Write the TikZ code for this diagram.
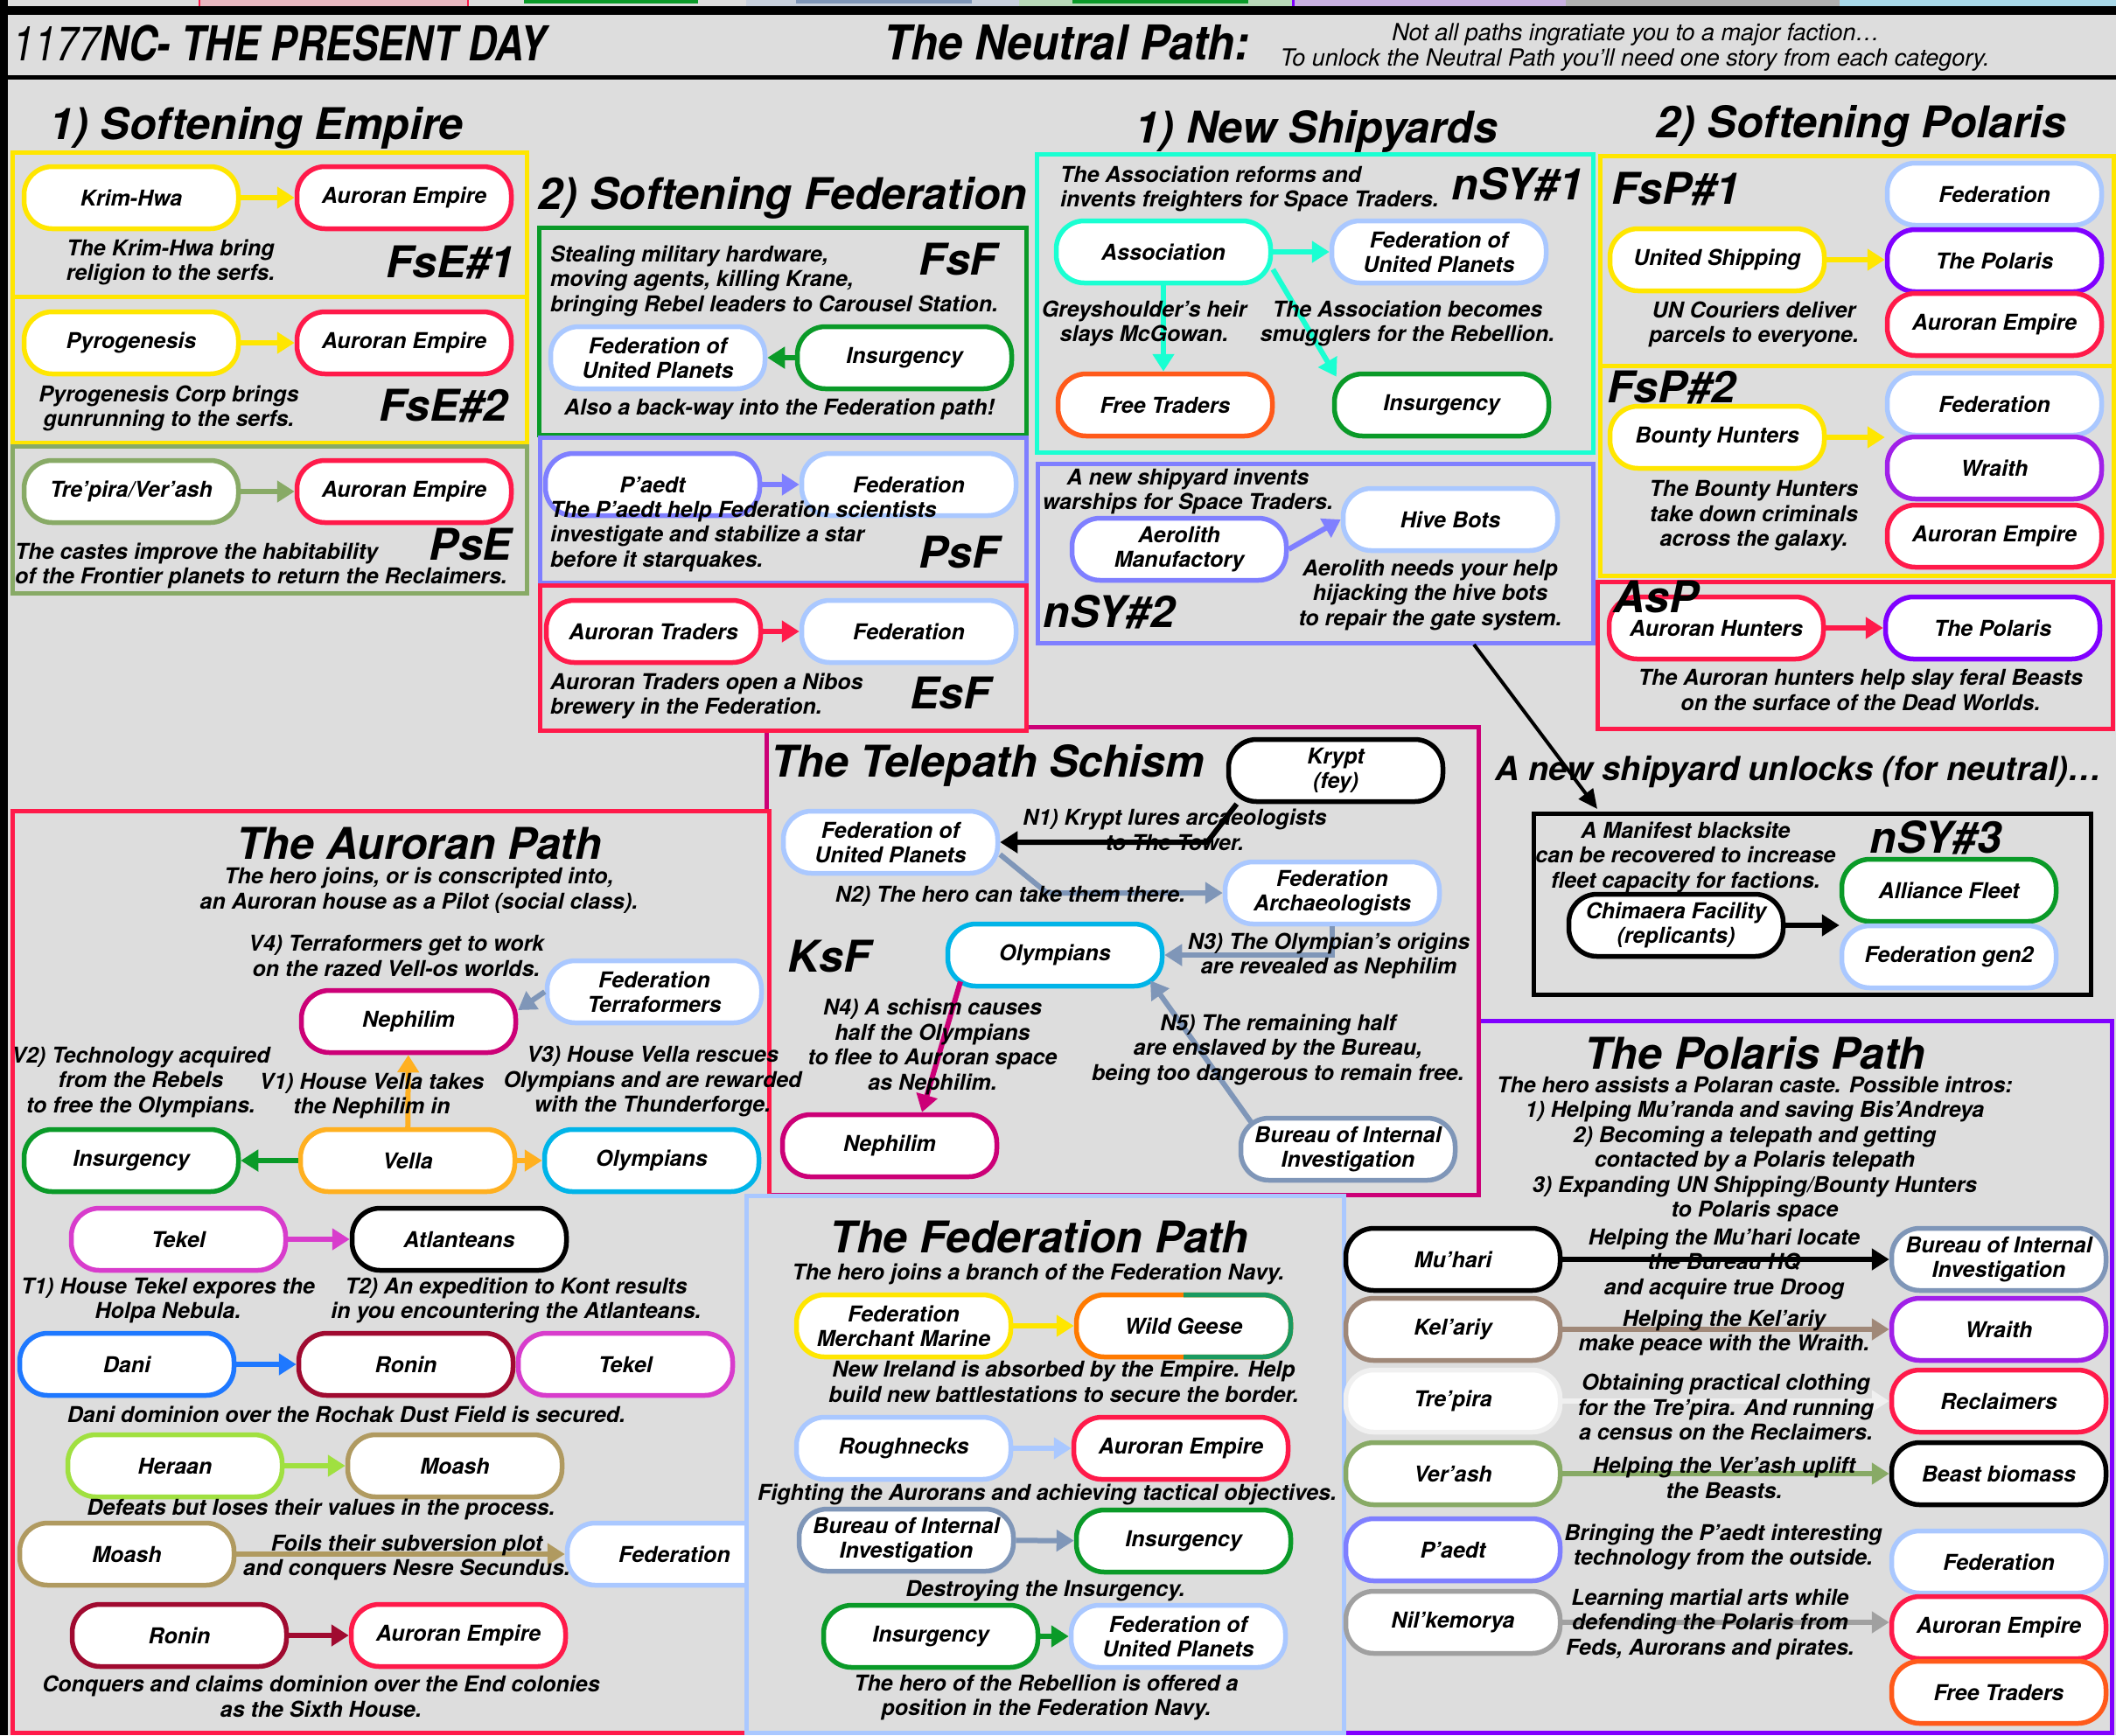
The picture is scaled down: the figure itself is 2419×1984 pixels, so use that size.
\documentclass[tikz,border=0pt]{standalone}
\usepackage{fontspec}
\setmainfont{TeX Gyre Heros}
\usepackage{xcolor}
\definecolor{npbg}{HTML}{DDDDDD}
\definecolor{npfed}{HTML}{AAC8FF}
\definecolor{npred}{HTML}{FF1A4A}
\definecolor{npyel}{HTML}{FFE600}
\definecolor{npgreen}{HTML}{0A9A28}
\definecolor{nppaedt}{HTML}{7F7FFF}
\definecolor{npassoc}{HTML}{1AFFD2}
\definecolor{npfree}{HTML}{FF5A1A}
\definecolor{nppol}{HTML}{8000FF}
\definecolor{npwraith}{HTML}{A020E8}
\definecolor{nptel}{HTML}{CC0077}
\definecolor{npcaste}{HTML}{88AA66}
\definecolor{npbureau}{HTML}{7F96B8}
\definecolor{npolymp}{HTML}{00B4E8}
\definecolor{npvella}{HTML}{FFB020}
\definecolor{nptekel}{HTML}{D83CCC}
\definecolor{npdani}{HTML}{1E78FF}
\definecolor{npronin}{HTML}{A00A30}
\definecolor{npheraan}{HTML}{A0E040}
\definecolor{npmoash}{HTML}{B09A60}
\definecolor{npkel}{HTML}{A08878}
\definecolor{nptre}{HTML}{F0F0F0}
\definecolor{npnil}{HTML}{A0A0A0}
\definecolor{npgeeseA}{HTML}{FF7A00}
\definecolor{npgeeseB}{HTML}{1A9A60}
\definecolor{npstpink}{HTML}{E8B8C0}
\definecolor{npstgrey}{HTML}{C8D0DC}
\definecolor{npstgreen}{HTML}{B8D8B8}
\definecolor{npstlav}{HTML}{C8B0E0}
\definecolor{npstdark}{HTML}{B0B0B0}
\definecolor{npstsky}{HTML}{A8D8E8}
\usepackage{tikz}
\usetikzlibrary{arrows.meta}
\newcommand\nppill{\fontsize{25}{28}\selectfont\bfseries\itshape}
\newcommand\npdesc{\fontsize{25}{28.5}\selectfont\bfseries\itshape}
\newcommand\nphead{\fontsize{50}{54}\selectfont\bfseries\itshape}
\newcommand\nphdr{\fontsize{55}{60}\selectfont\bfseries\itshape}
\newcommand\npnote{\fontsize{27}{30}\selectfont\itshape}
\newcommand\npmid{\fontsize{38}{42}\selectfont\bfseries\itshape}

\begin{document}
\begin{tikzpicture}[x=1pt,y=-1pt,
  pill/.style={draw=#1,line width=5.5pt,fill=white,rounded corners=32pt,minimum width=245pt,minimum height=71pt,inner sep=0pt,align=center,font=\nppill},
  frm/.style={draw=#1,line width=5pt,fill=npbg},
  lnk/.style={draw=#1,line width=6pt,-{Triangle[length=20pt,width=24pt]}},
  txt/.style={inner sep=0pt,align=center,font=\npdesc},
  ltxt/.style={inner sep=0pt,align=left,anchor=west,font=\npdesc},
  head/.style={inner sep=0pt,anchor=base,font=\nphead},
  code/.style={inner sep=0pt,font=\nphead}]
\useasboundingbox (0,0) rectangle (2419,1984);
\fill[npbg] (0,0) rectangle (2419,1984);
\fill[npstpink] (228,0) rectangle (535,8);
\draw[npred,line width=2pt] (228,0) -- (228,8) (535,0) -- (535,8);
\fill[npgreen] (599,0) rectangle (798,4);
\fill[npstgrey] (853,0) rectangle (1165,8);
\fill[npbureau] (910,0) rectangle (1111,4);
\fill[npstgreen] (1165,0) rectangle (1478,8);
\fill[npgreen] (1226,0) rectangle (1427,4);
\fill[npstlav] (1478,0) rectangle (1790,8);
\draw[nppol,line width=3pt] (1478,0) -- (1478,8);
\fill[npstdark] (1790,0) rectangle (2103,8);
\fill[npstsky] (2103,0) rectangle (2419,8);
\fill[black] (0,7) rectangle (2419,17);
\fill[black] (0,86) rectangle (2419,91);
\fill[black] (0,0) rectangle (9,1984);

\node[inner sep=0pt,anchor=west,font=\nphdr] (hdrA) at (14,49) {\scalebox{0.82}[1]{{\mdseries 1177}NC- THE PRESENT DAY}};
\node[inner sep=0pt,anchor=west,font=\nphdr] (hdrB) at (1010,49) {\scalebox{0.92}[1]{The Neutral Path:}};
\node[inner sep=0pt,anchor=base,font=\npnote] (hdrC) at (1870,46) {Not all paths ingratiate you to a major faction\ldots};
\node[inner sep=0pt,anchor=base,font=\npnote] (hdrD) at (1869,75) {To unlock the Neutral Path you’ll need one story from each category.};

\draw[frm=nppol] (1534,1167) rectangle (2414,1981);

\draw[frm=nptel] (876,831) rectangle (1690,1366);
\node[head] (hTS) at (1129,888) {The Telepath Schism};
\node[pill=black] (krypt) at (1527,881) {Krypt\\(fey)};
\node[pill=npfed] (fupC) at (1018,963) {Federation of\\United Planets};
\node[pill=npfed] (farch) at (1523,1021) {Federation\\Archaeologists};
\node[pill=npolymp] (olyA) at (1206,1092) {Olympians};
\node[pill=nptel] (nephA) at (1017,1310) {Nephilim};
\node[pill=npbureau] (biiA) at (1541,1314) {Bureau of Internal\\Investigation};
\node[code] (cKsF) at (948,1093) {KsF};
\coordinate (n1bend) at (1380,963);
\coordinate (n2bend) at (1197,1021);
\draw[lnk=black] ([xshift=12pt]krypt.south west) -- (n1bend) -- (fupC.east);
\draw[lnk=npbureau] ([yshift=-14pt]fupC.east) -- (n2bend) -- (farch.west);
\draw[lnk=npbureau] (farch.south) |- (olyA.east);
\draw[lnk=nptel] ([xshift=-108pt,yshift=8pt]olyA.south) -- ([xshift=37pt]nephA.north);
\draw[lnk=npbureau] ([xshift=-111pt,yshift=-7pt]biiA.north) -- ([xshift=109pt,yshift=9pt]olyA.south);
\node[txt] (tN1) at (1343,949) {N1) Krypt lures arcaeologists\\to The Tower.};
\node[txt] (tN2) at (1155,1025) {N2) The hero can take them there.};
\node[txt] (tN3) at (1519,1093) {N3) The Olympian’s origins\\are revealed as Nephilim};
\node[txt] (tN4) at (1066,1197) {N4) A schism causes\\half the Olympians\\to flee to Auroran space\\as Nephilim.};
\node[txt] (tN5) at (1461,1200) {N5) The remaining half\\are enslaved by the Bureau,\\being too dangerous to remain free.};

\draw[frm=npred] (14,927) rectangle (879,1981);
\node[head] (hAP) at (479,982) {The Auroran Path};
\node[txt] (tAP) at (479,1018) {The hero joins, or is conscripted into,\\an Auroran house as a Pilot (social class).};
\node[pill=npfed] (fterra) at (748,1134) {Federation\\Terraformers};
\node[pill=nptel] (nephB) at (467,1168) {Nephilim};
\node[pill=npvella] (vella) at (466,1327) {Vella};
\node[pill=npgreen] (insC) at (150,1327) {Insurgency};
\node[pill=npolymp] (olyB) at (745,1327) {Olympians};
\draw[lnk=npbureau] (fterra.west) -- ([yshift=13pt]nephB.east);
\draw[lnk=npvella] (vella) -- (nephB);
\draw[lnk=npgreen] (vella) -- (insC);
\draw[lnk=npvella] (vella) -- (olyB);
\node[txt] (tV4) at (453,1093) {V4) Terraformers get to work\\on the razed Vell-os worlds.};
\node[txt] (tV2) at (161,1237) {V2) Technology acquired\\from the Rebels\\to free the Olympians.};
\node[txt] (tV1) at (425,1253) {V1) House Vella takes\\the Nephilim in};
\node[txt] (tV3) at (746,1237) {V3) House Vella rescues\\Olympians and are rewarded\\with the Thunderforge.};
\node[pill=nptekel] (tekA) at (204,1417) {Tekel};
\node[pill=black] (atl) at (525,1417) {Atlanteans};
\draw[lnk=nptekel] (tekA) -- (atl);
\node[txt] (tT1) at (192,1487) {T1) House Tekel expores the\\Holpa Nebula.};
\node[txt] (tT2) at (590,1487) {T2) An expedition to Kont results\\in you encountering the Atlanteans.};
\node[pill=npdani] (dani) at (145,1560) {Dani};
\node[pill=npronin] (roninA) at (464,1560) {Ronin};
\node[pill=nptekel] (tekB) at (715,1560) {Tekel};
\draw[lnk=npdani] (dani) -- (roninA);
\node[txt] (tDani) at (396,1617) {Dani dominion over the Rochak Dust Field is secured.};
\node[pill=npheraan] (heraan) at (200,1676) {Heraan};
\node[pill=npmoash] (moashA) at (520,1676) {Moash};
\draw[lnk=npheraan] (heraan) -- (moashA);
\node[txt] (tDef) at (367,1726) {Defeats but loses their values in the process.};
\node[pill=npmoash] (moashB) at (145,1777) {Moash};
\node[pill=npfed] (fedE) at (771,1777) {Federation};
\draw[lnk=npmoash] (moashB) -- (fedE);
\node[txt] (tFoil) at (465,1781) {Foils their subversion plot\\and conquers Nesre Secundus.};
\node[pill=npronin] (roninB) at (205,1870) {Ronin};
\node[pill=npred] (aeF) at (524,1870) {Auroran Empire};
\draw[lnk=npronin] (roninB) -- (aeF);
\node[txt] (tEnd) at (367,1940) {Conquers and claims dominion over the End colonies\\as the Sixth House.};

\draw[frm=npfed] (853,1367) rectangle (1536,1981);
\node[head] (hFP) at (1188,1432) {The Federation Path};
\node[txt,anchor=base] (tFP) at (1187,1463) {The hero joins a branch of the Federation Navy.};
\node[pill=npyel] (fmm) at (1033,1516) {Federation\\Merchant Marine};
\node[pill=npgeeseA] (wgeese) at (1353,1516) {Wild Geese};
\begin{scope}
\clip (1353,1470) rectangle (1500,1562);
\node[pill=npgeeseB,fill=none] (wgeeseR) at (1353,1516) {};
\end{scope}
\draw[lnk=npyel] (fmm) -- (wgeese);
\node[txt] (tIre) at (1216,1580) {New Ireland is absorbed by the Empire. Help\\build new battlestations to secure the border.};
\node[pill=npfed] (rough) at (1033,1656) {Roughnecks};
\node[pill=npred] (aeG) at (1350,1656) {Auroran Empire};
\draw[lnk=npfed] (rough) -- (aeG);
\node[txt,anchor=base] (tFight) at (1197,1715) {Fighting the Aurorans and achieving tactical objectives.};
\node[pill=npbureau] (biiB) at (1036,1761) {Bureau of Internal\\Investigation};
\node[pill=npgreen] (insD) at (1353,1762) {Insurgency};
\draw[lnk=npbureau] (biiB) -- (insD);
\node[txt,anchor=base] (tDest) at (1195,1825) {Destroying the Insurgency.};
\node[pill=npgreen] (insE) at (1064,1871) {Insurgency};
\node[pill=npfed] (fupD) at (1347,1871) {Federation of\\United Planets};
\draw[lnk=npgreen] (insE) -- (fupD);
\node[txt] (tHero) at (1196,1941) {The hero of the Rebellion is offered a\\position in the Federation Navy.};

\node[head] (hPP) at (2006,1222) {The Polaris Path};
\node[txt] (tPP) at (2006,1314) {The hero assists a Polaran caste. Possible intros:\\1) Helping Mu’randa and saving Bis’Andreya\\2) Becoming a telepath and getting\\contacted by a Polaris telepath\\3) Expanding UN Shipping/Bounty Hunters\\to Polaris space};
\node[pill=black] (muhari) at (1661,1440) {Mu’hari};
\node[pill=npbureau] (biiC) at (2285,1440) {Bureau of Internal\\Investigation};
\node[pill=npkel] (kelariy) at (1661,1520) {Kel’ariy};
\node[pill=npwraith] (wraB) at (2285,1520) {Wraith};
\node[pill=nptre] (trepira) at (1661,1602) {Tre’pira};
\node[pill=npred] (recl) at (2285,1602) {Reclaimers};
\node[pill=npcaste] (verash) at (1661,1685) {Ver’ash};
\node[pill=black] (beast) at (2285,1685) {Beast biomass};
\node[pill=nppaedt] (paedtB) at (1661,1772) {P’aedt};
\node[pill=npfed] (fedF) at (2285,1786) {Federation};
\node[pill=npnil] (nilk) at (1661,1855) {Nil’kemorya};
\node[pill=npred] (aeH) at (2285,1861) {Auroran Empire};
\node[pill=npfree] (ftB) at (2285,1935) {Free Traders};
\draw[lnk=black] (muhari) -- (biiC);
\draw[lnk=npkel] (kelariy) -- (wraB);
\draw[lnk=nptre] (trepira) -- (recl);
\draw[lnk=npcaste] (verash) -- (beast);
\draw[lnk=npnil] (nilk.east) -- (nilk.east -| aeH.west);
\node[txt] (tMu) at (1971,1445) {Helping the Mu’hari locate\\the Bureau HQ\\and acquire true Droog};
\node[txt] (tKel) at (1971,1524) {Helping the Kel’ariy\\make peace with the Wraith.};
\node[txt] (tTre) at (1973,1609) {Obtaining practical clothing\\for the Tre’pira. And running\\a census on the Reclaimers.};
\node[txt] (tVer) at (1971,1690) {Helping the Ver’ash uplift\\the Beasts.};
\node[txt] (tBring) at (1970,1769) {Bringing the P’aedt interesting\\technology from the outside.};
\node[txt] (tLearn) at (1955,1857) {Learning martial arts while\\defending the Polaris from\\Feds, Aurorans and pirates.};

\draw[frm=npyel] (14,174) rectangle (602,339);
\draw[frm=npyel] (14,339) rectangle (602,506);
\draw[frm=npcaste] (14,510) rectangle (602,678);
\node[head] (hSE) at (293,159) {1) Softening Empire};
\node[pill=npyel] (krim) at (150,226) {Krim-Hwa};
\node[pill=npred] (aeA) at (462,226) {Auroran Empire};
\node[txt] (tKrim) at (195,300) {The Krim-Hwa bring\\religion to the serfs.};
\node[code] (cFsE1) at (515,300) {FsE\#1};
\node[pill=npyel] (pyro) at (150,392) {Pyrogenesis};
\node[pill=npred] (aeB) at (462,392) {Auroran Empire};
\node[txt] (tPyro) at (193,467) {Pyrogenesis Corp brings\\gunrunning to the serfs.};
\node[code] (cFsE2) at (507,464) {FsE\#2};
\node[pill=npcaste] (trever) at (150,562) {Tre’pira/Ver’ash};
\node[pill=npred] (aeC) at (462,562) {Auroran Empire};
\node[ltxt] (tCaste) at (17,647) {The castes improve the habitability\\of the Frontier planets to return the Reclaimers.};
\node[code] (cPsE) at (538,622) {PsE};
\draw[lnk=npyel] (krim) -- (aeA);
\draw[lnk=npyel] (pyro) -- (aeB);
\draw[lnk=npcaste] (trever) -- (aeC);

\draw[frm=npgreen] (616,260) rectangle (1173,497);
\draw[frm=nppaedt] (617,500) rectangle (1173,666);
\draw[frm=npred] (617,669) rectangle (1173,835);
\node[head] (hSF) at (895,239) {2) Softening Federation};
\node[ltxt] (tFsF) at (629,321) {Stealing military hardware,\\moving agents, killing Krane,\\bringing Rebel leaders to Carousel Station.};
\node[code] (cFsF) at (1095,296) {FsF};
\node[pill=npfed] (fupA) at (752,409) {Federation of\\United Planets};
\node[pill=npgreen] (insA) at (1034,409) {Insurgency};
\draw[lnk=npgreen] (insA) -- (fupA);
\node[txt] (tBack) at (891,468) {Also a back-way into the Federation path!};
\node[pill=nppaedt] (paedtA) at (746,554) {P’aedt};
\node[pill=npfed] (fedA) at (1039,554) {Federation};
\draw[lnk=nppaedt] (paedtA) -- (fedA);
\node[ltxt] (tPsF) at (629,613) {The P’aedt help Federation scientists\\investigate and stabilize a star\\before it starquakes.};
\node[code] (cPsF) at (1096,631) {PsF};
\node[pill=npred] (atr) at (747,722) {Auroran Traders};
\node[pill=npfed] (fedB) at (1039,722) {Federation};
\draw[lnk=npred] (atr) -- (fedB);
\node[ltxt] (tEsF) at (629,796) {Auroran Traders open a Nibos\\brewery in the Federation.};
\node[code] (cEsF) at (1086,792) {EsF};

\draw[frm=npassoc] (1185,176) rectangle (1821,517);
\draw[frm=nppaedt] (1186,530) rectangle (1821,735);
\node[head] (hNS) at (1505,163) {1) New Shipyards};
\node[ltxt] (tNS1) at (1212,216) {The Association reforms and\\invents freighters for Space Traders.};
\node[code] (cNS1) at (1735,211) {nSY\#1};
\node[pill=npassoc] (assoc) at (1330,288) {Association};
\node[pill=npfed] (fupB) at (1645,288) {Federation of\\United Planets};
\node[pill=npfree] (ftA) at (1332,463) {Free Traders};
\node[pill=npgreen] (insB) at (1648,463) {Insurgency};
\draw[lnk=npassoc] (assoc) -- (fupB);
\draw[lnk=npassoc] (assoc.south) -- (assoc.south |- ftA.north);
\draw[lnk=npassoc] ([yshift=-20pt]assoc.east) -- ([xshift=5pt,yshift=-6pt]insB.north west);
\node[txt] (tGrey) at (1308,370) {Greyshoulder’s heir\\slays McGowan.};
\node[txt] (tSmug) at (1609,370) {The Association becomes\\smugglers for the Rebellion.};
\node[txt] (tNS2) at (1358,562) {A new shipyard invents\\warships for Space Traders.};
\node[pill=nppaedt] (aero) at (1348,628) {Aerolith\\Manufactory};
\node[pill=npfed] (hive) at (1658,594) {Hive Bots};
\draw[lnk=nppaedt] (aero.east) -- (hive.west);
\node[txt] (tHive) at (1635,680) {Aerolith needs your help\\hijacking the hive bots\\to repair the gate system.};
\node[code] (cNS2) at (1268,700) {nSY\#2};

\draw[frm=npyel] (1829,178) rectangle (2416,418);
\draw[frm=npyel] (1829,418) rectangle (2416,658);
\draw[frm=npred] (1826,665) rectangle (2415,833);
\node[head] (hSP) at (2128,157) {2) Softening Polaris};
\node[code] (cFsP1) at (1916,216) {FsP\#1};
\node[pill=npfed] (fedC) at (2280,222) {Federation};
\node[pill=npyel] (ushp) at (1963,297) {United Shipping};
\node[pill=nppol] (polA) at (2280,298) {The Polaris};
\node[pill=npred] (aeD) at (2280,371) {Auroran Empire};
\draw[lnk=npyel] (ushp.east) -- (ushp.east -| polA.west);
\node[txt] (tUN) at (2005,371) {UN Couriers deliver\\parcels to everyone.};
\node[code] (cFsP2) at (1911,443) {FsP\#2};
\node[pill=npfed] (fedD) at (2280,462) {Federation};
\node[pill=npyel] (bhunt) at (1963,500) {Bounty Hunters};
\node[pill=npwraith] (wraA) at (2280,535) {Wraith};
\node[pill=npred] (aeE) at (2280,613) {Auroran Empire};
\draw[lnk=npyel] (bhunt.east) -- (bhunt.east -| wraA.west);
\node[txt] (tBH) at (2005,590) {The Bounty Hunters\\take down criminals\\across the galaxy.};
\node[pill=npred] (ahunt) at (1962,718) {Auroran Hunters};
\node[pill=nppol] (polB) at (2278,718) {The Polaris};
\draw[lnk=npred] (ahunt) -- (polB);
\node[code] (cAsP) at (1893,682) {AsP};
\node[txt] (tAsP) at (2127,789) {The Auroran hunters help slay feral Beasts\\on the surface of the Dead Worlds.};

\coordinate (shipFrom) at (1685,737);
\coordinate (shipTo) at (1826,925);
\draw[line width=4pt,-{Triangle[length=22pt,width=20pt]}] (shipFrom) -- (shipTo);
\node[inner sep=0pt,anchor=base,font=\npmid] (tUnlock) at (2056,892) {A new shipyard unlocks (for neutral)\ldots};
\draw[frm=black] (1753,930) rectangle (2390,1137);
\node[txt] (tNS3) at (1927,980) {A Manifest blacksite\\can be recovered to increase\\fleet capacity for factions.};
\node[code] (cNS3) at (2213,958) {nSY\#3};
\node[pill=black] (chim) at (1916,1058) {Chimaera Facility\\(replicants)};
\node[pill=npgreen] (afleet) at (2228,1018) {Alliance Fleet};
\node[pill=npfed] (fgen) at (2228,1094) {Federation gen2};
\draw[lnk=black] (chim.east) -- (chim.east -| afleet.west);
\end{tikzpicture}
\end{document}
